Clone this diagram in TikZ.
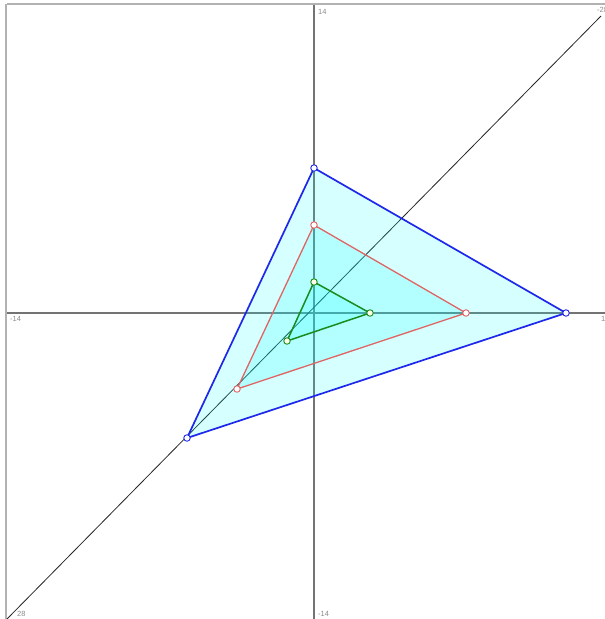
\documentclass[tikz,border=0pt]{standalone}
\usepackage{fontspec}
\setmainfont{Liberation Sans}
\definecolor{cy}{RGB}{0,255,255}
\definecolor{bl}{RGB}{30,40,235}
\definecolor{rd}{RGB}{225,100,100}
\definecolor{gr}{RGB}{25,140,30}
\begin{document}
\begin{tikzpicture}[x=1pt,y=-1pt,
  axis/.style={draw=black!55,line width=1.1pt},
  diag/.style={draw=black!85,line width=0.8pt},
  lbl/.style={font=\fontsize{7.5}{8}\selectfont,text=black!45,inner sep=0pt},
  vtx/.style={circle,draw,line width=0.9pt,minimum size=6.5pt,inner sep=0pt},
  tri/.style={fill=cy,fill opacity=0.16,line join=round}]
\useasboundingbox (0,0) rectangle (605,619);
\fill[white] (0,0) rectangle (605,619);
\draw[black!30,line width=2pt] (7,4) -- (640,4);
\draw[black!30,line width=2pt] (6,4) -- (6,640);
% axes
\coordinate (o) at (314,313);
\coordinate (yt) at (314,5);
\coordinate (yb) at (314,640);
\coordinate (xl) at (7,313);
\coordinate (xr) at (640,313);
\coordinate (dl) at (7,619);
\coordinate (dr) at (601,16);
\draw[axis] (yt) -- (yb);
\draw[axis] (xl) -- (xr);
\draw[diag] (dl) -- (dr);
% labels
\node[lbl,anchor=north west] (l1) at (318,9) {14};
\node[lbl,anchor=north west] (l2) at (10,316) {-14};
\node[lbl,anchor=north west] (l3) at (318,611) {-14};
\node[lbl,anchor=north west] (l4) at (17,611) {28};
\node[lbl,anchor=north west] (l5) at (601,316) {14};
\node[lbl,anchor=north west] (l6) at (597,7) {-28};
% vertices
\coordinate (b1) at (314,168);
\coordinate (b2) at (566,313);
\coordinate (b3) at (187,438);
\coordinate (r1) at (314,225);
\coordinate (r2) at (466,313);
\coordinate (r3) at (237,389);
\coordinate (g1) at (314,282);
\coordinate (g2) at (370,313);
\coordinate (g3) at (287,341);
\draw[tri,line width=1.7pt,draw=bl] (b1) -- (b2) -- (b3) -- cycle;
\draw[tri,line width=1.3pt,draw=rd] (r1) -- (r2) -- (r3) -- cycle;
\draw[tri,line width=1.5pt,draw=gr] (g1) -- (g2) -- (g3) -- cycle;
\foreach \p in {b1,b2,b3}{\node[vtx,draw=bl,fill=white] (n\p) at (\p) {};}
\foreach \p in {r1,r2,r3}{\node[vtx,draw=rd,fill=white] (n\p) at (\p) {};}
\foreach \p in {g1,g2,g3}{\node[vtx,draw=gr,fill=yellow!10] (n\p) at (\p) {};}
\end{tikzpicture}
\end{document}
